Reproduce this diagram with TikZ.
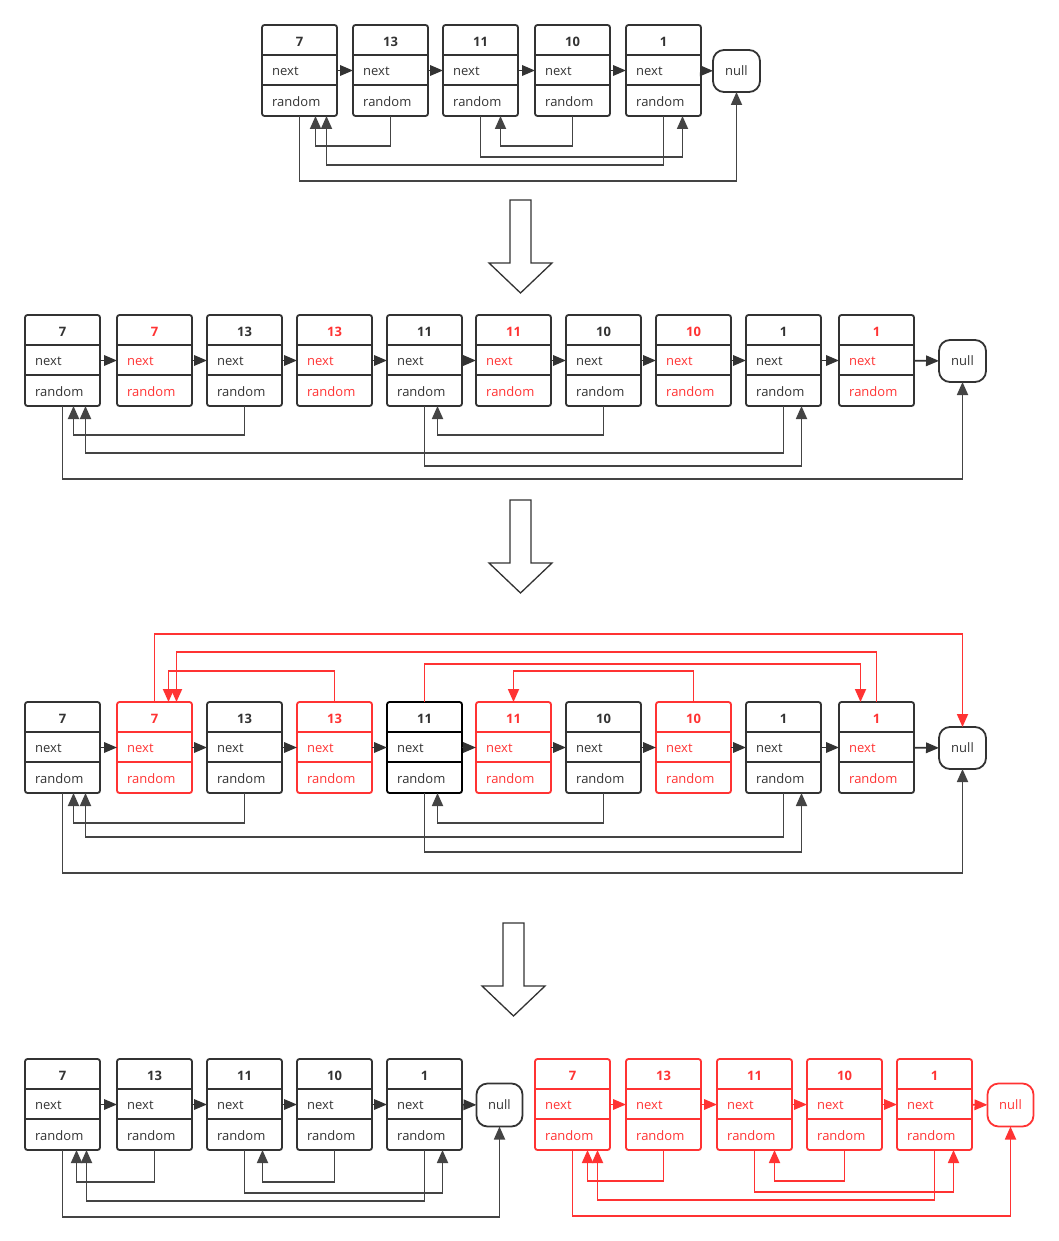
\documentclass[tikz,border=0pt]{standalone}
\usepackage{fontspec}
\setmainfont{Open Sans}
\usetikzlibrary{calc,arrows.meta}
\definecolor{linkgray}{HTML}{333333}
\definecolor{wiregray}{HTML}{444444}
\definecolor{copyred}{HTML}{FF3333}
\tikzstyle{listbox} = [rectangle, rounded corners=2.5pt, minimum width=75pt, minimum height=91pt, inner sep=0pt, outer sep=0pt, line width=1.8pt]
\tikzstyle{nullbox} = [rectangle, rounded corners=11pt, minimum width=47pt, minimum height=42pt, inner sep=0pt, outer sep=0pt, line width=1.8pt, font=\fontsize{13}{15}\selectfont]
\tikzstyle{valtext} = [inner sep=0pt, font=\fontsize{13}{15}\selectfont\bfseries]
\tikzstyle{fieldtext} = [anchor=west, inner sep=0pt, font=\fontsize{13}{15}\selectfont]
\tikzset{
  nextarrow/.style={line width=1.8pt, -{Triangle[length=13pt,width=10.5pt]}},
  randline/.style={line width=1.8pt, -{Triangle[length=13pt,width=11pt]}},
  hollow/.style={draw=linkgray, line width=1.3pt, fill=white, line join=miter}
}
% one list node: name, x, top, value, border colour, text colour
\newcommand{\listnode}[6]{%
  \node (#1)[listbox, draw=#5] at (#2,#3+45.5) {};
  \draw[#5, line width=1.8pt] ($(#1.north west)+(0,30)$) -- ($(#1.north east)+(0,30)$);
  \draw[#5, line width=1.8pt] ($(#1.north west)+(0,60)$) -- ($(#1.north east)+(0,60)$);
  \node (#1-v)[valtext, text=#6] at ($(#1.north)+(0,16.5)$) {#4};
  \node (#1-n)[fieldtext, text=#6] at ($(#1.north west)+(10,46.5)$) {next};
  \node (#1-r)[fieldtext, text=#6] at ($(#1.north west)+(10,76.5)$) {random};
}

\begin{document}
\begin{tikzpicture}[x=1pt, y=-1pt]
  \useasboundingbox (0,0) rectangle (1058,1241);

  % original list
  \foreach \v/\x in {7/299.5, 13/390.5, 11/480.5, 10/572.5, 1/663.5}
    \listnode{a\v}{\x}{25}{\v}{linkgray}{linkgray};
  \node (anull)[nullbox, draw=linkgray, text=linkgray] at (736.5,71) {null};
  \foreach \p/\q in {a7/a13, a13/a11, a11/a10, a10/a1, a1/anull}
    \draw[nextarrow, linkgray] (\p) -- (\q);
  \draw[randline, wiregray] (a7.south) -- ++(0,65) -| (anull.south);
  \draw[randline, wiregray] (a13.south) -- ++(0,30) -| ($(a7.south)+(16,0)$);
  \draw[randline, wiregray] (a1.south) -- ++(0,49) -| ($(a7.south)+(27,0)$);
  \draw[randline, wiregray] (a11.south) -- ++(0,41) -| ($(a1.south)+(19,0)$);
  \draw[randline, wiregray] (a10.south) -- ++(0,30) -| ($(a11.south)+(20,0)$);

  % step arrows
  \foreach \cx/\ty in {520.5/200, 520.5/500, 513.5/923}
    \draw[hollow] (\cx-10.5,\ty) -- (\cx+10.5,\ty) -- (\cx+10.5,\ty+63) -- (\cx+31.5,\ty+63)
      -- (\cx,\ty+93) -- (\cx-31.5,\ty+63) -- (\cx-10.5,\ty+63) -- cycle;

  % copies woven in
  \foreach \nm/\v/\x/\tc in {b7/7/62.5/linkgray, b7c/7/154.5/copyred, b13/13/244.5/linkgray,
      b13c/13/334.5/copyred, b11/11/424.5/linkgray, b11c/11/513.5/copyred, b10/10/603.5/linkgray,
      b10c/10/693.5/copyred, b1/1/783.5/linkgray, b1c/1/876.5/copyred}
    \listnode{\nm}{\x}{315}{\v}{linkgray}{\tc};
  \node (bnull)[nullbox, draw=linkgray, text=linkgray] at (962.5,361) {null};
  \foreach \p/\q in {b7/b7c, b7c/b13, b13/b13c, b13c/b11, b11/b11c, b11c/b10, b10/b10c, b10c/b1, b1/b1c, b1c/bnull}
    \draw[nextarrow, linkgray] (\p) -- (\q);
  \draw[randline, wiregray] (b7.south) -- ++(0,73) -| (bnull.south);
  \draw[randline, wiregray] (b13.south) -- ++(0,29) -| ($(b7.south)+(11,0)$);
  \draw[randline, wiregray] (b1.south) -- ++(0,47) -| ($(b7.south)+(23,0)$);
  \draw[randline, wiregray] (b11.south) -- ++(0,60) -| ($(b1.south)+(18,0)$);
  \draw[randline, wiregray] (b10.south) -- ++(0,29) -| ($(b11.south)+(13,0)$);

  % copies with random set
  \foreach \nm/\v/\x/\bc/\tc in {c7/7/62.5/linkgray/linkgray, c7c/7/154.5/copyred/copyred,
      c13/13/244.5/linkgray/linkgray, c13c/13/334.5/copyred/copyred, c11/11/424.5/black/linkgray,
      c11c/11/513.5/copyred/copyred, c10/10/603.5/linkgray/linkgray, c10c/10/693.5/copyred/copyred,
      c1/1/783.5/linkgray/linkgray, c1c/1/876.5/linkgray/copyred}
    \listnode{\nm}{\x}{702}{\v}{\bc}{\tc};
  \node (cnull)[nullbox, draw=linkgray, text=linkgray] at (962.5,748) {null};
  \foreach \p/\q in {c7/c7c, c7c/c13, c13/c13c, c13c/c11, c11/c11c, c11c/c10, c10/c10c, c10c/c1, c1/c1c, c1c/cnull}
    \draw[nextarrow, linkgray] (\p) -- (\q);
  \draw[randline, wiregray] (c7.south) -- ++(0,80) -| (cnull.south);
  \draw[randline, wiregray] (c13.south) -- ++(0,30) -| ($(c7.south)+(11,0)$);
  \draw[randline, wiregray] (c1.south) -- ++(0,44) -| ($(c7.south)+(23,0)$);
  \draw[randline, wiregray] (c11.south) -- ++(0,59) -| ($(c1.south)+(18,0)$);
  \draw[randline, wiregray] (c10.south) -- ++(0,30) -| ($(c11.south)+(13,0)$);
  \draw[randline, copyred] (c7c.north) -- ++(0,-68) -| (cnull.north);
  \draw[randline, copyred] (c1c.north) -- ++(0,-50) -| ($(c7c.north)+(22,0)$);
  \draw[randline, copyred] (c13c.north) -- ++(0,-31) -| ($(c7c.north)+(14,0)$);
  \draw[randline, copyred] (c11.north) -- ++(0,-38) -| ($(c1c.north)+(-16,0)$);
  \draw[randline, copyred] (c10c.north) -- ++(0,-31) -| (c11c.north);

  % split into two lists
  \foreach \v/\x in {7/62.5, 13/154.5, 11/244.5, 10/334.5, 1/424.5}
    \listnode{d\v}{\x}{1059}{\v}{linkgray}{linkgray};
  \node (dnull)[nullbox, draw=linkgray, text=linkgray, minimum width=46pt, minimum height=43pt] at (499.5,1105) {null};
  \foreach \p/\q in {d7/d13, d13/d11, d11/d10, d10/d1, d1/dnull}
    \draw[nextarrow, linkgray] (\p) -- (\q);
  \draw[randline, wiregray] (d7.south) -- ++(0,67) -| (dnull.south);
  \draw[randline, wiregray] (d13.south) -- ++(0,32) -| ($(d7.south)+(14,0)$);
  \draw[randline, wiregray] (d1.south) -- ++(0,51) -| ($(d7.south)+(24,0)$);
  \draw[randline, wiregray] (d11.south) -- ++(0,43) -| ($(d1.south)+(18,0)$);
  \draw[randline, wiregray] (d10.south) -- ++(0,32) -| ($(d11.south)+(18,0)$);

  \foreach \v/\x in {7/572.5, 13/663.5, 11/754.5, 10/844.5, 1/934.5}
    \listnode{e\v}{\x}{1059}{\v}{copyred}{copyred};
  \node (enull)[nullbox, draw=copyred, text=copyred, minimum width=46pt, minimum height=43pt] at (1010.5,1105) {null};
  \foreach \p/\q in {e7/e13, e13/e11, e11/e10, e10/e1, e1/enull}
    \draw[nextarrow, copyred] (\p) -- (\q);
  \draw[randline, copyred] (e7.south) -- ++(0,66) -| (enull.south);
  \draw[randline, copyred] (e13.south) -- ++(0,31) -| ($(e7.south)+(15,0)$);
  \draw[randline, copyred] (e1.south) -- ++(0,50) -| ($(e7.south)+(25,0)$);
  \draw[randline, copyred] (e11.south) -- ++(0,42) -| ($(e1.south)+(19,0)$);
  \draw[randline, copyred] (e10.south) -- ++(0,31) -| ($(e11.south)+(20,0)$);
\end{tikzpicture}
\end{document}
